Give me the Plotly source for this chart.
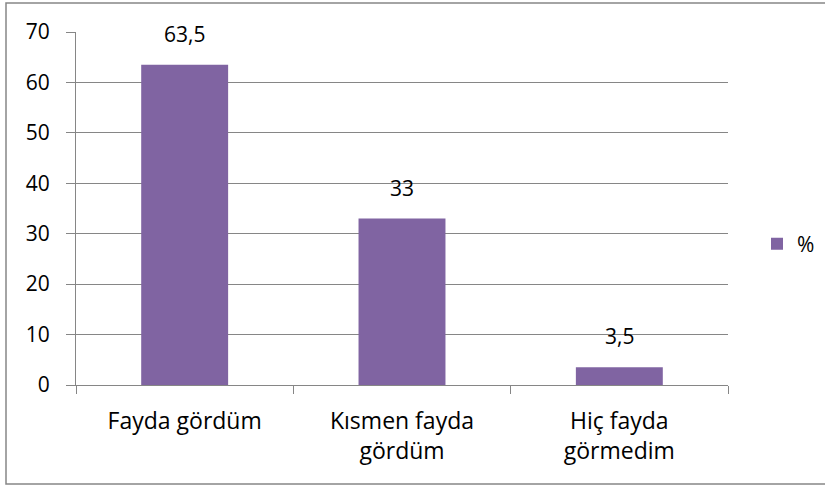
import plotly.graph_objects as go

categories = ["Fayda gördüm", "Kısmen fayda<br>gördüm", "Hiç fayda<br>görmedim"]
values = [63.5, 33, 3.5]
value_labels = ["63,5", "33", "3,5"]
series_name = "%"
y_ticks = [0, 10, 20, 30, 40, 50, 60, 70]

W, H = 825, 486
L, R, T, B = 76, 97, 32, 101
pw = W - L - R
ph = H - T - B

def px_x(p):
    return (p - L) / pw

def px_y(p):
    return (H - B - p) / ph

FONT = "Open Sans"
FS = 21
fig = go.Figure()
fig.add_trace(go.Bar(
    x=categories, y=values, name=series_name,
    marker=dict(color="#8064A2", line=dict(width=0)),
    showlegend=True,
))
for c, v, t in zip(categories, values, value_labels):
    fig.add_annotation(x=c, y=v, text=t, showarrow=False, yanchor="bottom",
                       yshift=15, font=dict(family=FONT, size=FS, color="#000000"))

fig.add_shape(type="rect", xref="paper", yref="paper",
              x0=px_x(6), x1=px_x(835), y0=px_y(484), y1=px_y(3),
              line=dict(color="#868686", width=1.5), fillcolor="rgba(0,0,0,0)", layer="below")

fig.update_layout(
    width=W, height=H,
    margin=dict(l=L, r=R, t=T, b=B, autoexpand=False),
    paper_bgcolor="white", plot_bgcolor="white",
    bargap=0.6,
    font=dict(family=FONT, size=FS, color="#000000"),
    legend=dict(x=px_x(757), y=px_y(244), xanchor="left", yanchor="middle",
                font=dict(family=FONT, size=FS), itemwidth=30),
    xaxis=dict(showline=True, linecolor="#868686", linewidth=1, ticks="outside",
               tickcolor="#868686", ticklen=8, tickson="boundaries",
               showgrid=False, ticklabelstandoff=15, mirror=False,
               tickfont=dict(family=FONT, size=23)),
    yaxis=dict(range=[0, 70], tickvals=y_ticks, showline=True, linecolor="#868686",
               linewidth=1, ticks="outside", tickcolor="#868686", ticklen=9,
               showgrid=True, gridcolor="#868686", gridwidth=1, zeroline=False,
               ticklabelstandoff=12),
)
fig.write_html("out.html", config=dict(displayModeBar=False),
               post_script="document.body.style.margin='0';document.body.style.overflow='hidden';")
